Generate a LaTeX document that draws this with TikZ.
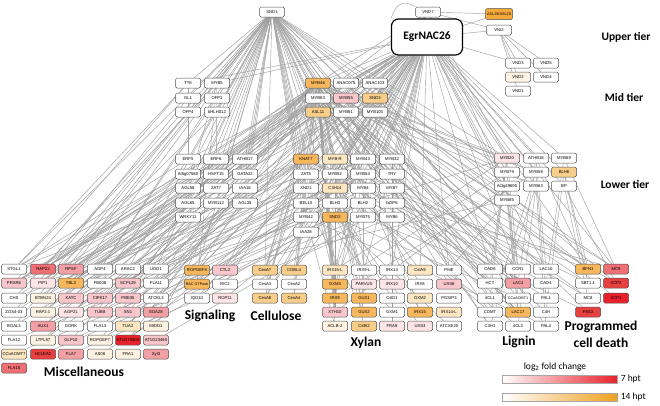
\documentclass[tikz,border=0pt]{standalone}
\usepackage{fontspec}
\setmainfont{Liberation Sans}
\newfontfamily\calfont{Carlito}
\usetikzlibrary{backgrounds}
\definecolor{edgec}{HTML}{A0A0A0}
\definecolor{bord}{HTML}{505050}
\definecolor{cO}{HTML}{F5A93A}
\definecolor{cA}{HTML}{F7B75C}
\definecolor{cB}{HTML}{F9CD8A}
\definecolor{cC}{HTML}{FDE6C2}
\definecolor{cD}{HTML}{FEF3E2}
\definecolor{pA}{HTML}{FCE4E7}
\definecolor{pB}{HTML}{F8C6CB}
\definecolor{pC}{HTML}{F3A0A5}
\definecolor{pD}{HTML}{EE7074}
\definecolor{pE}{HTML}{E8403F}
\definecolor{pF}{HTML}{E8222A}
\definecolor{legO}{HTML}{F0A020}
\tikzset{
  bx/.style={draw=bord, line width=0.5pt, rounded corners=1.6pt, fill=white,
    minimum width=25pt, minimum height=10pt, inner sep=0.4pt,
    font=\fontsize{4.2}{5}\selectfont},
  sm/.style={font=\fontsize{3.7}{4.5}\selectfont},
  oO/.style={fill=cO}, oA/.style={fill=cA}, oB/.style={fill=cB},
  oC/.style={fill=cC}, oD/.style={fill=cD},
  rA/.style={fill=pA}, rB/.style={fill=pB}, rC/.style={fill=pC},
  rD/.style={fill=pD}, rE/.style={fill=pE}, rF/.style={fill=pF},
  big/.style={draw=black, line width=1.2pt, rounded corners=7pt, fill=white,
    minimum width=71pt, minimum height=36pt,
    font=\calfont\bfseries\fontsize{11.5}{13}\selectfont},
  tier/.style={font=\calfont\bfseries\fontsize{11.5}{13}\selectfont},
  cat/.style={font=\calfont\bfseries\fontsize{13.5}{15}\selectfont},
  leg/.style={font=\calfont\fontsize{9.5}{11}\selectfont},
  edge/.style={draw=edgec, line width=0.45pt},
  bar/.style={draw=gray!70, line width=0.5pt, minimum width=115pt, minimum height=8pt, inner sep=0pt},
}
\begin{document}
\begin{tikzpicture}[x=1pt,y=-1pt]
\useasboundingbox (0,0) rectangle (660,405);
% ---------- upper tier
\node[bx] (SND1) at (272,12) {SND1};
\node[bx] (VND7) at (428,12) {VND7};
\node[bx,oO,minimum width=27pt,minimum height=11pt,font=\fontsize{3.8}{4.5}\selectfont] (ASL19) at (499,14) {ASL19/ASL20};
\node[bx] (VNI2) at (499,30) {VNI2};
\node[big] (Egr) at (427,37) {EgrNAC26};
\node[bx] (VND3) at (518,63) {VND3};
\node[bx] (VND5) at (546,63) {VND5};
\node[bx,oD] (VND2) at (518,77) {VND2};
\node[bx] (VND4) at (546,77) {VND4};
\node[bx] (VND1) at (518,91) {VND1};
% ---------- mid tier
\node[bx] (TT8) at (188,83) {TT8};
\node[bx] (MYB5) at (217,83) {MYB5};
\node[bx] (GL1) at (188,98) {GL1};
\node[bx] (OFP1) at (217,98) {OFP1};
\node[bx] (OFP4) at (188,112) {OFP4};
\node[bx] (bHLH) at (217,112) {bHLH012};
\node[bx,oA] (MYB46) at (318,83) {MYB46};
\node[bx] (ANAC075) at (346,83) {ANAC075};
\node[bx] (ANAC103) at (375,83) {ANAC103};
\node[bx] (MYB83) at (318,98) {MYB83};
\node[bx,rB] (MYB55) at (346,98) {MYB55};
\node[bx,oB] (SND3) at (375,98) {SND3};
\node[bx,oB] (ASL11) at (318,112) {ASL11};
\node[bx] (MYB61) at (346,112) {MYB61};
\node[bx] (MYB103) at (375,112) {MYB103};
% ---------- lower tier left
\node[bx] (ERF5) at (188,159) {ERF5};
\node[bx] (ERF6) at (216,159) {ERF6};
\node[bx] (ATHBa) at (245,159) {ATHB17};
\node[bx] (At5g) at (188,174) {At5g07580};
\node[bx] (HSF) at (216,174) {HSFT15};
\node[bx] (GATA) at (245,174) {GATA22};
\node[bx] (AGLa) at (188,188) {AGL58};
\node[bx] (ZAT7) at (216,188) {ZAT7};
\node[bx] (IAAa) at (245,188) {IAA16};
\node[bx] (AGLb) at (188,203) {AGL65};
\node[bx] (MYBa) at (216,203) {MYB112};
\node[bx] (AGLc) at (245,203) {AGL35};
\node[bx] (WRKY) at (188,217) {WRKY11};
% ---------- lower tier centre
\node[bx,oA] (KNAT7) at (306,159) {KNAT7};
\node[bx,oC] (MYBR) at (335,159) {MYB-R};
\node[bx] (MYB43) at (363,159) {MYB43};
\node[bx] (MYB32) at (392,159) {MYB32};
\node[bx] (ZAT5) at (306,174) {ZAT5};
\node[bx] (MYB52) at (335,174) {MYB52};
\node[bx] (MYB54) at (363,174) {MYB54};
\node[bx] (TRY) at (392,174) {TRY};
\node[bx] (XND1) at (306,188) {XND1};
\node[bx,oC] (C3H14) at (335,188) {C3H14};
\node[bx] (MYB4) at (363,188) {MYB4};
\node[bx] (MYB7) at (392,188) {MYB7};
\node[bx] (BEL10) at (306,203) {BEL10};
\node[bx] (BLH3) at (335,203) {BLH3};
\node[bx] (BLH2) at (363,203) {BLH2};
\node[bx] (bZIP6) at (392,203) {bZIP6};
\node[bx] (MYB42) at (306,217) {MYB42};
\node[bx,oA] (SND2) at (335,217) {SND2};
\node[bx] (MYB75) at (363,217) {MYB75};
\node[bx] (MYB6) at (392,217) {MYB6};
\node[bx] (IAA28) at (306,232) {IAA28};
% ---------- lower tier right
\node[bx,rA] (MYB20) at (507,158) {MYB20};
\node[bx] (ATHB18) at (536,158) {ATHB18};
\node[bx] (MYB69) at (564,158) {MYB69};
\node[bx] (MYB79) at (507,172) {MYB79};
\node[bx] (MYB58) at (536,172) {MYB58};
\node[bx,oB] (BLH6) at (564,172) {BLH6};
\node[bx] (At3g) at (507,186) {At3g49690};
\node[bx] (MYB63) at (536,186) {MYB63};
\node[bx] (BP) at (564,186) {BP};
\node[bx] (MYB85) at (507,200) {MYB85};
% ---------- miscellaneous
\node[bx] (m11) at (14,269) {STGL1};
\node[bx,rD] (m12) at (43,269) {RAP22};
\node[bx,rC] (m13) at (71,269) {RPSF};
\node[bx] (m14) at (100,269) {AGP4};
\node[bx] (m15) at (128,269) {ARAC2};
\node[bx] (m16) at (156,269) {UGD1};
\node[bx,rB] (m21) at (14,283) {PRXR6};
\node[bx,rA] (m22) at (43,283) {PIP1};
\node[bx,oA] (m23) at (71,283) {TBL3};
\node[bx] (m24) at (100,283) {FB008};
\node[bx,rB] (m25) at (128,283) {SCPL29};
\node[bx] (m26) at (156,283) {FLA11};
\node[bx] (m31) at (14,298) {CHS};
\node[bx,oD] (m32) at (43,298) {BTBN24};
\node[bx,rB] (m33) at (71,298) {KATC};
\node[bx,rB] (m34) at (100,298) {CIPK17};
\node[bx,rB] (m35) at (128,298) {PBE35};
\node[bx] (m36) at (156,298) {ATCEL3};
\node[bx] (m41) at (14,312) {ZOS4-03};
\node[bx,oD] (m42) at (43,312) {RAP2.1};
\node[bx,rA] (m43) at (71,312) {AGP21};
\node[bx,rB] (m44) at (100,312) {TUB8};
\node[bx,rB] (m45) at (128,312) {SN1};
\node[bx,rC] (m46) at (156,312) {EDA28};
\node[bx] (m51) at (14,326) {BGAL3};
\node[bx,rC] (m52) at (43,326) {AUX1};
\node[bx] (m53) at (71,326) {GORK};
\node[bx] (m54) at (100,326) {FLA13};
\node[bx,oC] (m55) at (128,326) {TUA2};
\node[bx,oD] (m56) at (156,326) {MIDD1};
\node[bx] (m61) at (14,340) {FLA12};
\node[bx,oD] (m62) at (43,340) {LTPL87};
\node[bx,rB] (m63) at (71,340) {GLP10};
\node[bx,oD] (m64) at (100,340) {ROPGEF7};
\node[bx,rF] (m65) at (128,340) {AT1G70500};
\node[bx,rB] (m66) at (156,340) {AT1G23460};
\node[bx,oC] (m71) at (14,354) {CCoAOMT7};
\node[bx,rE] (m72) at (43,354) {HCLEA2};
\node[bx,rC] (m73) at (71,354) {FLA7};
\node[bx,oD] (m74) at (100,354) {AS08};
\node[bx,oD] (m75) at (128,354) {FRA1};
\node[bx,rC] (m76) at (156,354) {Xyl3};
\node[bx,rD] (m81) at (14,368) {FLA15};
% ---------- signaling
\node[bx,oA] (s11) at (197,270) {ROPGEF4};
\node[bx,rB] (s12) at (225,270) {CTL2};
\node[bx,oA,sm] (s21) at (197,284) {RAC GTPase};
\node[bx] (s22) at (225,284) {RIC2};
\node[bx] (s31) at (197,298) {IQD10};
\node[bx,rA] (s32) at (225,298) {ROP11};
% ---------- cellulose
\node[bx,oB] (c11) at (265,270) {CesA7};
\node[bx,oB] (c12) at (294,270) {COBL4};
\node[bx] (c21) at (265,284) {CesA3};
\node[bx] (c22) at (294,284) {CesA2};
\node[bx,oB] (c31) at (265,298) {CesA8};
\node[bx,oB] (c32) at (294,298) {CesA4};
% ---------- xylan
\node[bx,oC] (x11) at (335,270) {IRX15-L};
\node[bx] (x12) at (364,270) {IRX9-L};
\node[bx] (x13) at (392,270) {IRX14};
\node[bx,oC] (x14) at (420,270) {CslA9};
\node[bx] (x15) at (449,270) {PME};
\node[bx,oA] (x21) at (335,284) {GXM3};
\node[bx,rA] (x22) at (364,284) {PARVUS};
\node[bx,rA] (x23) at (392,284) {IRX10};
\node[bx] (x24) at (420,284) {IRX8};
\node[bx,rB] (x25) at (449,284) {UXS6};
\node[bx,oA] (x31) at (335,298) {IRX9};
\node[bx,oA] (x32) at (364,298) {GUX1};
\node[bx] (x33) at (392,298) {CslD1};
\node[bx,oC] (x34) at (420,298) {GXM2};
\node[bx] (x35) at (449,298) {PGSIP3};
\node[bx,rB] (x41) at (335,312) {XTH10};
\node[bx,oA] (x42) at (364,312) {GUX2};
\node[bx] (x43) at (392,312) {GXM1};
\node[bx,oA] (x44) at (420,312) {IRX15};
\node[bx,oC] (x45) at (449,312) {IRX14-L};
\node[bx,oD] (x51) at (335,326) {ACLB-2};
\node[bx,oB] (x52) at (364,326) {CslB2};
\node[bx,rA] (x53) at (392,326) {FRA8};
\node[bx,rA] (x54) at (420,326) {UXS3};
\node[bx] (x55) at (449,326) {ATCXE20};
% ---------- lignin
\node[bx] (l11) at (490,269) {CAD6};
\node[bx] (l12) at (518,269) {CCR1};
\node[bx] (l13) at (546,269) {LAC10};
\node[bx] (l21) at (490,283) {HCT};
\node[bx,rC] (l22) at (518,283) {LAC4};
\node[bx] (l23) at (546,283) {CAD4};
\node[bx] (l31) at (490,298) {4CL1};
\node[bx,sm] (l32) at (518,298) {CCoAOMT1};
\node[bx] (l33) at (546,298) {PAL1};
\node[bx] (l41) at (490,312) {COMT};
\node[bx,oA] (l42) at (518,312) {LAC17};
\node[bx] (l43) at (546,312) {C4H};
\node[bx] (l51) at (490,326) {C3H1};
\node[bx] (l52) at (518,326) {4CL3};
\node[bx] (l53) at (546,326) {PAL4};
% ---------- programmed cell death
\node[bx,oA] (p11) at (588,269) {BFN1};
\node[bx,rD] (p12) at (616,269) {MC9};
\node[bx] (p21) at (588,283) {SBT1.1};
\node[bx,rE] (p22) at (616,283) {XCP2};
\node[bx] (p31) at (588,298) {MC8};
\node[bx,rF] (p32) at (616,298) {XCP1};
\node[bx,rE] (p41) at (588,312) {PAS3};
% ---------- labels
\node[tier] (tUp) at (626,37) {Upper tier};
\node[tier] (tMid) at (624,97) {Mid tier};
\node[tier] (tLow) at (625,184) {Lower tier};
\node[cat] (kMisc) at (84,372) {Miscellaneous};
\node[cat] (kSig) at (210,316) {Signaling};
\node[cat] (kCel) at (276,316) {Cellulose};
\node[cat] (kXyl) at (366,343) {Xylan};
\node[cat] (kLig) at (519,342) {Lignin};
\node[cat] (kPcd1) at (601,327) {Programmed};
\node[cat] (kPcd2) at (601,343) {cell death};
% ---------- legend
\node[leg] (lgT) at (555,367) {log\textsubscript{2} fold change};
\node[bar,left color=white,right color=pF] (bar7) at (559.5,379) {};
\node[bar,left color=white,right color=legO] (bar14) at (559.5,397) {};
\node[leg,anchor=west] (lg7) at (bar7.east) {7 hpt};
\node[leg,anchor=west] (lg14) at (bar14.east) {14 hpt};
% ---------- edges
\begin{pgfonlayer}{background}
\fill[white] (0,0) rectangle (660,405);
\foreach \t in {TT8,MYB5,GL1,OFP1,OFP4,bHLH,ERF5,ERF6,ATHBa,At5g,HSF,GATA,AGLa,ZAT7,IAAa,AGLb,MYBa,AGLc,WRKY,MYB46,MYB83,SND3,ASL11,MYB61,MYB103,MYB55,ANAC075,KNAT7,ZAT5,XND1,BEL10,MYB42,IAA28,MYBR,MYB52,C3H14,SND2,MYB43,MYB54,MYB4,MYB75,MYB32,TRY,MYB7,bZIP6,MYB20,MYB79,At3g,MYB85,m11,m12,m13,m14,m15,m16,m22,m23,m32,s11,c11,x11}
  {\draw[edge] (SND1) -- (\t);}
\foreach \t in {MYB46,ANAC075,ANAC103,MYB83,MYB55,SND3,ASL11,MYB61,MYB103,KNAT7,MYBR,MYB43,MYB32,ZAT5,MYB52,MYB54,TRY,XND1,C3H14,MYB4,MYB7,BEL10,BLH3,BLH2,bZIP6,MYB42,SND2,MYB75,MYB6,IAA28,MYB20,ATHB18,MYB69,MYB79,MYB58,BLH6,At3g,MYB63,BP,MYB85,ERF5,ERF6,ATHBa,GATA,IAAa,AGLc,TT8,MYB5,m11,m12,m13,m14,m16,m21,m23,s11,s12,c11,c12,x11,x12,x13,x14,x15,x21,l11,l12,l13,p11,p12,ASL19,VNI2,VND3}
  {\draw[edge] (Egr) -- (\t);}
\foreach \t in {ASL19,VNI2,MYB46,SND3,KNAT7,MYB83,SND2,MYB52,MYB20,At3g}
  {\draw[edge] (VND7) -- (\t);}
\draw[edge] (VND7.north west) .. controls (398,-4) and (394,12) .. (Egr.north west);
\foreach \t in {VND3,VND5,VND2,VND4,VND1}
  {\draw[edge] (VNI2) -- (\t);}
\foreach \t in {m12,m13,m21,m23,m32,m33,m34,m42,m44,m45,m52,m55,m62,m65,s11,s12,c11,c12,c31,c32,x11,x21,x22,x31,x32,x41,x42,x44,l11,l12,l22,l42,p11,p12,MYB4,MYB20,MYB85,MYB63,KNAT7,MYB52,MYB58,MYB43}
  {\draw[edge] (MYB46) -- (\t);}
\foreach \t in {m12,m13,m23,m33,m44,m55,c11,c31,x21,x31,x41,x51,l11,l21,l42,p21,p31,MYB4,MYB58,MYB63,KNAT7,MYB42,MYB20}
  {\draw[edge] (MYB83) -- (\t);}
\foreach \t in {m13,m21,m34,c12,x11,x31,l12,l31,p11,KNAT7,MYB52}
  {\draw[edge] (SND3) -- (\t);}
\foreach \t in {m23,m42,m52,x22,x42,l42,p22,MYB54,MYB43}
  {\draw[edge] (ASL11) -- (\t);}
\foreach \t in {x44,l22,m16} {\draw[edge] (MYB55) -- (\t);}
\foreach \t in {l41,l51,m26,x12,MYB75} {\draw[edge] (MYB61) -- (\t);}
\foreach \t in {c21,x13,l13,p32} {\draw[edge] (MYB103) -- (\t);}
\foreach \t in {p41,p12,l32} {\draw[edge] (ANAC075) -- (\t);}
\foreach \t in {p22,l53,x15} {\draw[edge] (ANAC103) -- (\t);}
\foreach \s/\t in {TT8/m11,TT8/m21,TT8/ERF5,MYB5/m31,MYB5/s21,MYB5/AGLa,GL1/m41,OFP1/m14,OFP1/HSF,OFP4/m51,bHLH/m22}
  {\draw[edge] (\s) -- (\t);}
\foreach \t in {m11,m13,m23,m24,m35,m43,m62,s11,s22,c11,c32,x11,x21,x33,l11,l23,p11}
  {\draw[edge] (KNAT7) -- (\t);}
\foreach \s/\t in {MYBR/m14,MYBR/m34,MYBR/x14,MYBR/l21,MYBR/p21,
  MYB43/m15,MYB43/m25,MYB43/x22,MYB43/l31,MYB43/p31,
  MYB32/m16,MYB32/m45,MYB32/x23,MYB32/l12,
  ZAT5/m21,ZAT5/m54,ZAT5/s31,ZAT5/c21,
  MYB52/m22,MYB52/m44,MYB52/x31,MYB52/x41,MYB52/l42,MYB52/c31,
  MYB54/m33,MYB54/m64,MYB54/x32,MYB54/l33,
  TRY/m36,TRY/x53,TRY/l43,
  XND1/m31,XND1/m65,XND1/c22,XND1/x43,
  C3H14/m32,C3H14/x52,C3H14/l52,C3H14/s12,
  MYB4/m42,MYB4/l13,MYB4/l22,MYB4/x24,
  MYB7/m46,MYB7/x25,MYB7/l51,
  BEL10/m52,BEL10/s21,BEL10/x42,
  BLH3/m53,BLH3/x54,BLH2/m63,BLH2/l41,bZIP6/m66,bZIP6/p12,
  MYB42/m61,MYB42/x51,MYB42/l53,
  SND2/m71,SND2/c12,SND2/x11,SND2/x12,SND2/x55,SND2/l32,
  MYB75/m72,MYB75/l11,MYB6/m73,MYB6/p41,
  IAA28/m74,IAA28/s32,IAA28/c31}
  {\draw[edge] (\s) -- (\t);}
\foreach \s/\t in {ERF5/m11,ERF5/m24,ERF6/m12,ERF6/m35,ATHBa/m13,ATHBa/m56,At5g/m21,HSF/m22,HSF/m63,GATA/m25,AGLa/m31,ZAT7/m32,IAAa/m36,AGLb/m41,MYBa/m43,AGLc/m46,WRKY/m51,WRKY/m64}
  {\draw[edge] (\s) -- (\t);}
\foreach \s/\t in {MYB20/l11,MYB20/l12,MYB20/l21,MYB20/l31,MYB20/x11,MYB20/m16,
  ATHB18/l13,ATHB18/l22,ATHB18/p11,MYB69/p12,MYB69/l23,
  MYB79/l32,MYB79/x21,MYB58/l33,MYB58/l41,MYB58/x31,
  BLH6/p21,BLH6/p11,BLH6/l43,At3g/l42,At3g/x41,
  MYB63/l51,MYB63/l52,MYB63/l53,BP/p31,BP/p22,
  MYB85/l42,MYB85/l12,MYB85/x15,MYB85/m26}
  {\draw[edge] (\s) -- (\t);}
\end{pgfonlayer}
\end{tikzpicture}
\end{document}
